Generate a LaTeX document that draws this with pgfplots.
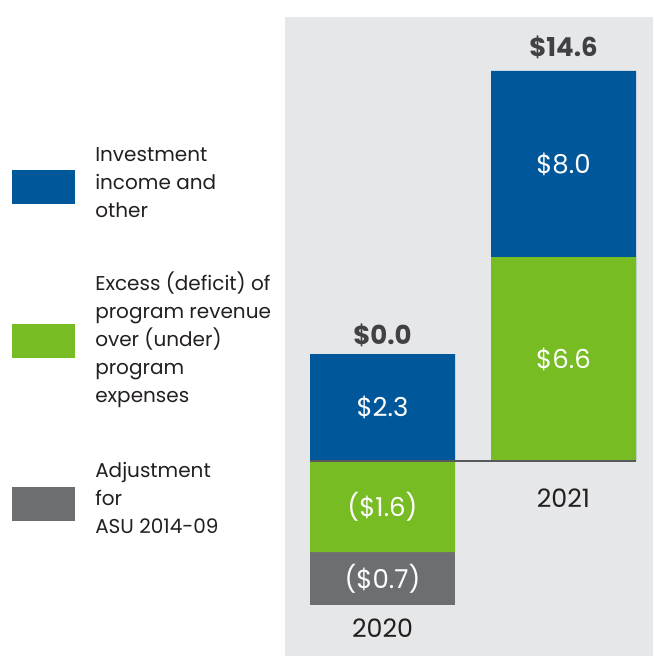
\documentclass[border=0pt]{standalone}
\usepackage{fontspec}
\setmainfont{Poppins}
\usepackage{pgfplots}
\pgfplotsset{compat=1.18}

\definecolor{invblue}{HTML}{00589B}
\definecolor{progreen}{HTML}{77BC22}
\definecolor{adjgray}{HTML}{6D6E71}
\definecolor{panel}{HTML}{E6E7E8}
\definecolor{baseln}{HTML}{58595B}
\definecolor{totaltxt}{HTML}{414042}
\definecolor{txt}{HTML}{231F20}

% bar heights as drawn (the source chart is not to scale), cumulative where bars overlap
\pgfplotstableread{
x  y
0  107
1  390
}\blueseries
\pgfplotstableread{
x  y
0  -144
}\grayseries
\pgfplotstableread{
x  y
0  -91
1  204
}\greenseries

\begin{document}
\begin{tikzpicture}[font=\fontsize{15}{21}\selectfont, text=txt]
\path[use as bounding box] (0pt,0pt) rectangle (489.75pt,-492pt);
\fill[panel] ({285*0.75pt},{-17*0.75pt}) rectangle (489.75pt,-492pt);

% legend
\fill[invblue]  ({12*0.75pt},{-170*0.75pt}) rectangle ({75*0.75pt},{-204*0.75pt});
\fill[progreen] ({12*0.75pt},{-324*0.75pt}) rectangle ({75*0.75pt},{-358*0.75pt});
\fill[adjgray]  ({12*0.75pt},{-487*0.75pt}) rectangle ({75*0.75pt},{-521*0.75pt});
\node[anchor=west, align=left, inner sep=0pt] at ({95*0.75pt},{-183*0.75pt})
  {Investment\\income and\\other};
\node[anchor=west, align=left, inner sep=0pt] at ({95*0.75pt},{-340*0.75pt})
  {Excess (deficit) of\\program revenue\\over (under)\\program\\expenses};
\node[anchor=west, align=left, inner sep=0pt] at ({95*0.75pt},{-498*0.75pt})
  {Adjustment\\for\\ASU 2014-09};

\begin{axis}[
    at={(213.75pt,-492pt)}, anchor=south west,
    width=276pt, height=479.25pt, scale only axis,
    xmin=-0.5387, xmax=1.4945,
    ymin=-195, ymax=444,
    hide axis,
    ybar, bar shift=0pt, bar width=108.75pt,
    clip=false,
]
\addplot[draw=none, fill=invblue] table {\blueseries};
\addplot[draw=none, fill=adjgray] table {\grayseries};
\addplot[draw=none, fill=progreen] table {\greenseries};

\draw[baseln, line width=1.5pt] ([xshift=-54.375pt]axis cs:0,0) -- ([xshift=54.375pt]axis cs:1,0);

\begin{scope}[every node/.style={text=white, font=\fontsize{19.5}{22}\selectfont}]
\node at (axis cs:0,53.5) {\$2.3};
\node at (axis cs:0,-45.5) {(\$1.6)};
\node at (axis cs:0,-117.5) {(\$0.7)};
\node at (axis cs:1,102) {\$6.6};
\node at (axis cs:1,297) {\$8.0};
\end{scope}

\node[text=totaltxt, font=\fontsize{19.5}{22}\selectfont\bfseries] at (axis cs:0,126) {\$0.0};
\node[text=totaltxt, font=\fontsize{19.5}{22}\selectfont\bfseries] at (axis cs:1,414) {\$14.6};
\node[font=\fontsize{19}{22}\selectfont] at (axis cs:0,-167) {2020};
\node[font=\fontsize{19}{22}\selectfont] at (axis cs:1,-37) {2021};
\end{axis}
\end{tikzpicture}
\end{document}
